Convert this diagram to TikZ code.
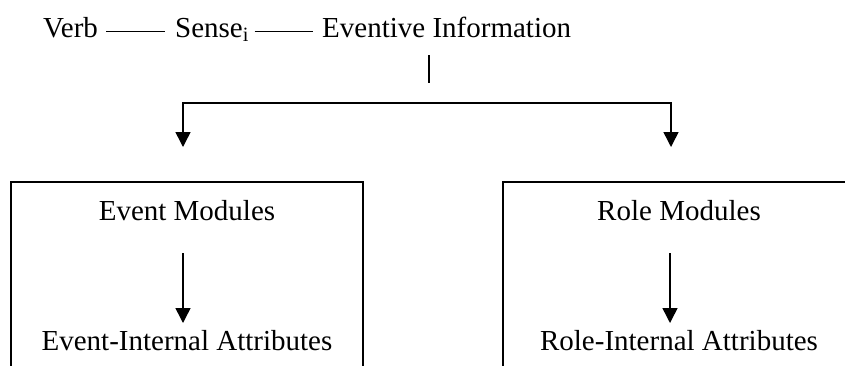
\documentclass[tikz,border=0pt]{standalone}
\usepackage{fontspec}
\setmainfont{Liberation Serif}
\usetikzlibrary{arrows.meta}
\begin{document}
\begin{tikzpicture}[x=1pt,y=-1pt,
  lbl/.style={inner sep=0pt, font=\fontsize{29}{35}\selectfont},
  dashline/.style={line width=1.2pt},
  conn/.style={line width=1.5pt},
  arr/.style={line width=1.5pt,-{Triangle[width=15pt,length=15pt]}},
  frame/.style={line width=1.8pt}]
\fill[white] (0,0) rectangle (845,365);
\clip (0,0) rectangle (845,365);
% top row
\node[lbl,anchor=base west] (verb) at (43,37) {Verb};
\node[lbl,anchor=base west] (sense) at (175,37) {Sense\textsubscript{i}};
\node[lbl,anchor=base west] (evt) at (322,37) {Eventive Information};
\draw[dashline] ([xshift=8pt,yshift=5.3pt]verb.base east) -- ([xshift=-10pt,yshift=5.3pt]sense.base west);
\draw[dashline] ([xshift=5.5pt,yshift=5.3pt]sense.base east) -- ([xshift=-9pt,yshift=5.3pt]evt.base west);
% bar below Eventive Information
\coordinate (bt) at (429,55);
\coordinate (bb) at (429,83);
\draw[conn] (bt) -- (bb);
% split
\coordinate (hl) at (183,103);
\coordinate (hr) at (671,103);
\coordinate (tl) at (183,147);
\coordinate (tr) at (671,147);
\draw[arr] (hr) -- (hl) -- (tl);
\draw[arr] (hl) -- (hr) -- (tr);
% boxes (open at bottom)
\draw[frame] (11,372) -- (11,182) -- (363,182) -- (363,372);
\draw[frame] (503,372) -- (503,182) -- (855,182) -- (855,372);
% box contents
\node[lbl,anchor=base] (em) at (187,220) {Event Modules};
\node[lbl,anchor=base] (ea) at (187,350) {Event-Internal Attributes};
\node[lbl,anchor=base] (rm) at (679,220) {Role Modules};
\node[lbl,anchor=base] (ra) at (679,350) {Role-Internal Attributes};
\coordinate (emo) at (183,253);
\coordinate (eai) at (183,323);
\coordinate (rmo) at (670,253);
\coordinate (rai) at (670,323);
\draw[arr] (emo) -- (eai);
\draw[arr] (rmo) -- (rai);
\end{tikzpicture}
\end{document}
